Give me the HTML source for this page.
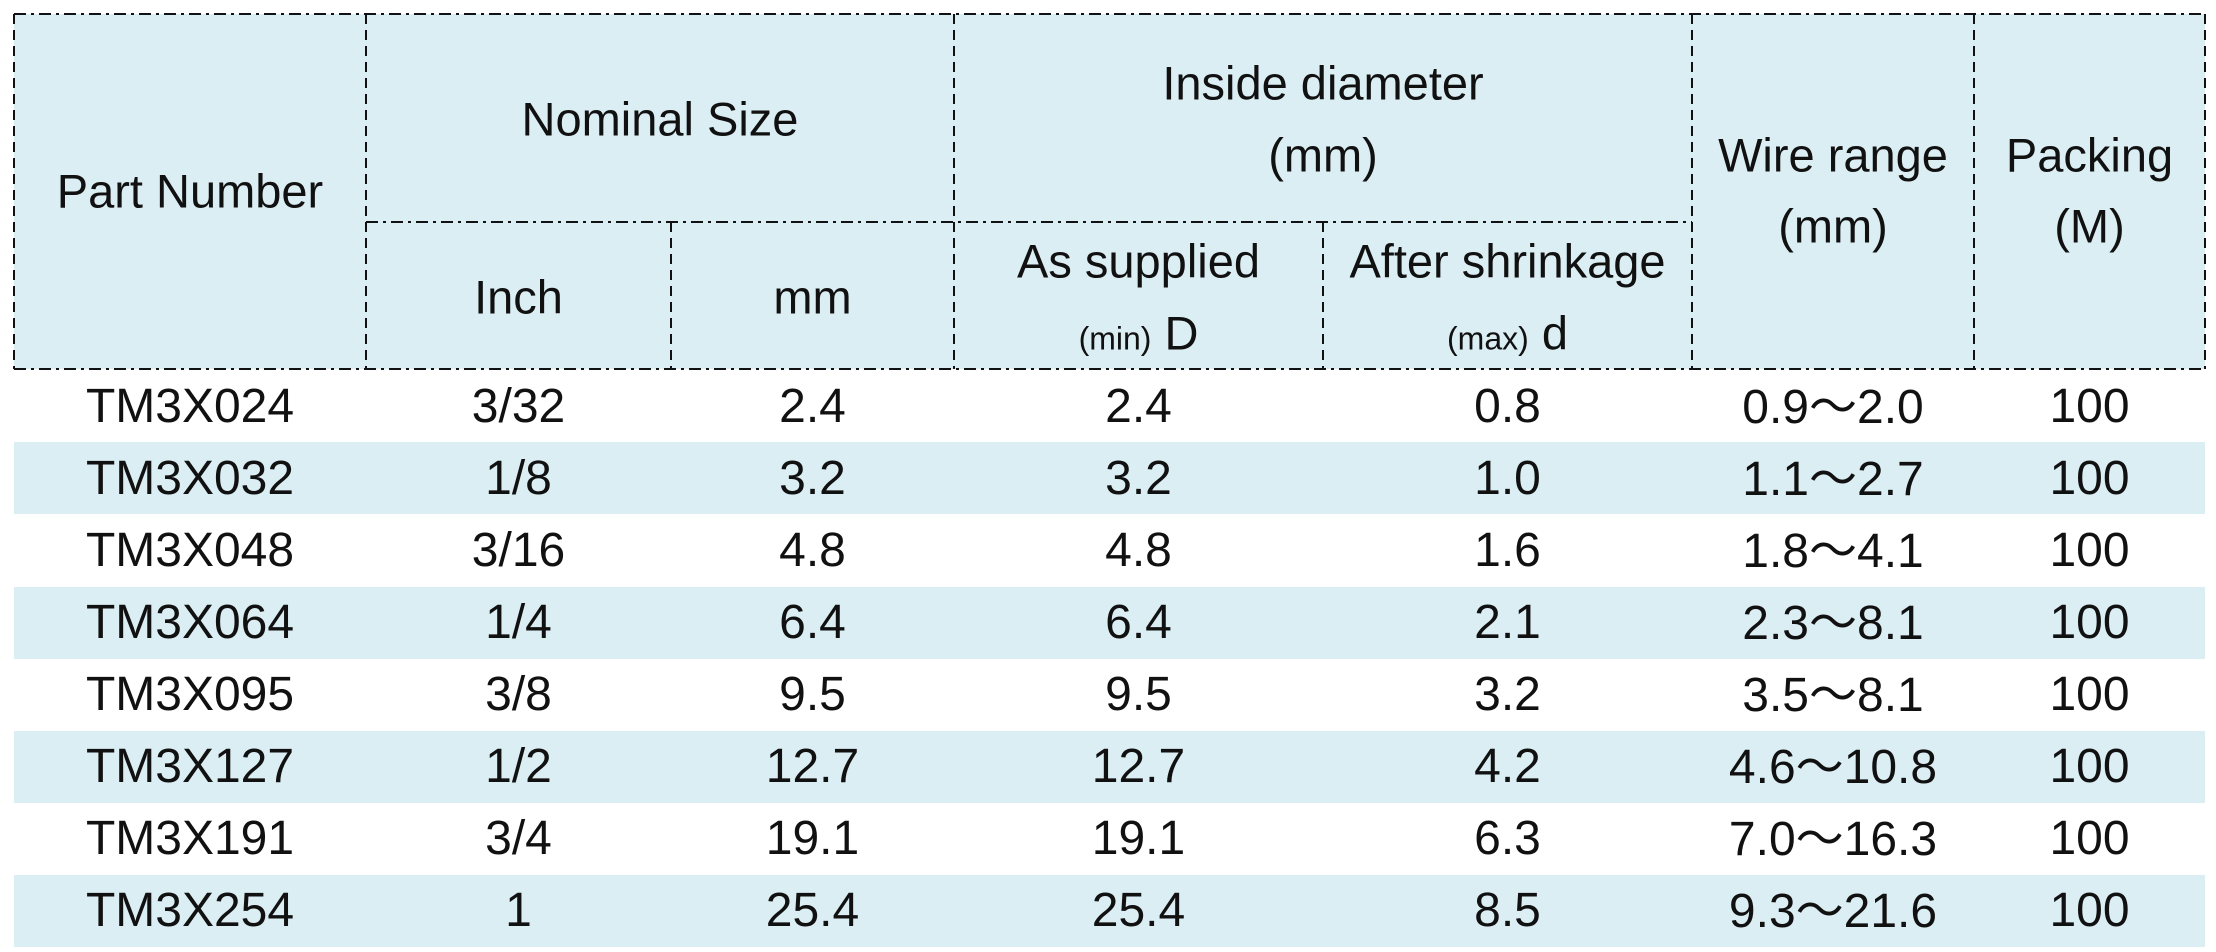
<!DOCTYPE html>
<html><head><meta charset="utf-8"><style>
html,body{margin:0;padding:0;background:#fff;}
body{width:2216px;height:952px;position:relative;overflow:hidden;font-family:"Liberation Sans","Noto Sans CJK SC",sans-serif;color:#111;}
.t{position:absolute;text-align:center;white-space:nowrap;transform:translateY(-50%);line-height:1;}
.h{font-size:47px;}
.d{font-size:48px;}
.s{font-size:32px;}
.bg{position:absolute;background:#dbeef4;}
.tl{font-family:"Noto Sans CJK SC",sans-serif;}
</style></head><body>
<div class="bg" style="left:14px;top:14px;width:2191px;height:355px"></div>
<div class="bg" style="left:14px;top:442px;width:2191px;height:72px"></div>
<div class="bg" style="left:14px;top:587px;width:2191px;height:72px"></div>
<div class="bg" style="left:14px;top:731px;width:2191px;height:72px"></div>
<div class="bg" style="left:14px;top:875px;width:2191px;height:72px"></div>
<svg style="position:absolute;left:0;top:0" width="2216" height="952">
<g stroke="#111" stroke-width="2" fill="none" stroke-dasharray="12,5,3,5">
<line x1="14" y1="14" x2="2205" y2="14"/>
<line x1="14" y1="369" x2="2205" y2="369"/>
<line x1="366" y1="222" x2="1692" y2="222"/>
</g>
<g stroke="#111" stroke-width="2" fill="none" stroke-dasharray="10,6">
<line x1="14" y1="14" x2="14" y2="369"/>
<line x1="366" y1="14" x2="366" y2="369"/>
<line x1="671" y1="222" x2="671" y2="369"/>
<line x1="954" y1="14" x2="954" y2="369"/>
<line x1="1323" y1="222" x2="1323" y2="369"/>
<line x1="1692" y1="14" x2="1692" y2="369"/>
<line x1="1974" y1="14" x2="1974" y2="369"/>
<line x1="2205" y1="14" x2="2205" y2="369"/>
</g>
</svg>
<div class="t h" style="left:14px;width:352px;top:191px">Part Number</div>
<div class="t h" style="left:366px;width:588px;top:119px">Nominal Size</div>
<div class="t h" style="left:366px;width:305px;top:297px">Inch</div>
<div class="t h" style="left:671px;width:283px;top:297px">mm</div>
<div class="t h" style="left:954px;width:738px;top:83px">Inside diameter</div>
<div class="t h" style="left:954px;width:738px;top:155px">(mm)</div>
<div class="t h" style="left:954px;width:369px;top:261px">As supplied</div>
<div class="t h" style="left:954px;width:369px;top:333px"><span class="s">(min)</span> D</div>
<div class="t h" style="left:1323px;width:369px;top:261px">After shrinkage</div>
<div class="t h" style="left:1323px;width:369px;top:333px"><span class="s">(max)</span> d</div>
<div class="t h" style="left:1692px;width:282px;top:155px">Wire range</div>
<div class="t h" style="left:1692px;width:282px;top:226px">(mm)</div>
<div class="t h" style="left:1974px;width:231px;top:155px">Packing</div>
<div class="t h" style="left:1974px;width:231px;top:226px">(M)</div>

<div class="t d" style="left:14px;width:352px;top:407px">TM3X024</div><div class="t d" style="left:366px;width:305px;top:407px">3/32</div><div class="t d" style="left:671px;width:283px;top:407px">2.4</div><div class="t d" style="left:954px;width:369px;top:407px">2.4</div><div class="t d" style="left:1323px;width:369px;top:407px">0.8</div><div class="t d" style="left:1692px;width:282px;top:405px">0.9<span class="tl">～</span>2.0</div><div class="t d" style="left:1974px;width:231px;top:407px">100</div>
<div class="t d" style="left:14px;width:352px;top:479px">TM3X032</div><div class="t d" style="left:366px;width:305px;top:479px">1/8</div><div class="t d" style="left:671px;width:283px;top:479px">3.2</div><div class="t d" style="left:954px;width:369px;top:479px">3.2</div><div class="t d" style="left:1323px;width:369px;top:479px">1.0</div><div class="t d" style="left:1692px;width:282px;top:477px">1.1<span class="tl">～</span>2.7</div><div class="t d" style="left:1974px;width:231px;top:479px">100</div>
<div class="t d" style="left:14px;width:352px;top:551px">TM3X048</div><div class="t d" style="left:366px;width:305px;top:551px">3/16</div><div class="t d" style="left:671px;width:283px;top:551px">4.8</div><div class="t d" style="left:954px;width:369px;top:551px">4.8</div><div class="t d" style="left:1323px;width:369px;top:551px">1.6</div><div class="t d" style="left:1692px;width:282px;top:549px">1.8<span class="tl">～</span>4.1</div><div class="t d" style="left:1974px;width:231px;top:551px">100</div>
<div class="t d" style="left:14px;width:352px;top:623px">TM3X064</div><div class="t d" style="left:366px;width:305px;top:623px">1/4</div><div class="t d" style="left:671px;width:283px;top:623px">6.4</div><div class="t d" style="left:954px;width:369px;top:623px">6.4</div><div class="t d" style="left:1323px;width:369px;top:623px">2.1</div><div class="t d" style="left:1692px;width:282px;top:621px">2.3<span class="tl">～</span>8.1</div><div class="t d" style="left:1974px;width:231px;top:623px">100</div>
<div class="t d" style="left:14px;width:352px;top:695px">TM3X095</div><div class="t d" style="left:366px;width:305px;top:695px">3/8</div><div class="t d" style="left:671px;width:283px;top:695px">9.5</div><div class="t d" style="left:954px;width:369px;top:695px">9.5</div><div class="t d" style="left:1323px;width:369px;top:695px">3.2</div><div class="t d" style="left:1692px;width:282px;top:693px">3.5<span class="tl">～</span>8.1</div><div class="t d" style="left:1974px;width:231px;top:695px">100</div>
<div class="t d" style="left:14px;width:352px;top:767px">TM3X127</div><div class="t d" style="left:366px;width:305px;top:767px">1/2</div><div class="t d" style="left:671px;width:283px;top:767px">12.7</div><div class="t d" style="left:954px;width:369px;top:767px">12.7</div><div class="t d" style="left:1323px;width:369px;top:767px">4.2</div><div class="t d" style="left:1692px;width:282px;top:765px">4.6<span class="tl">～</span>10.8</div><div class="t d" style="left:1974px;width:231px;top:767px">100</div>
<div class="t d" style="left:14px;width:352px;top:839px">TM3X191</div><div class="t d" style="left:366px;width:305px;top:839px">3/4</div><div class="t d" style="left:671px;width:283px;top:839px">19.1</div><div class="t d" style="left:954px;width:369px;top:839px">19.1</div><div class="t d" style="left:1323px;width:369px;top:839px">6.3</div><div class="t d" style="left:1692px;width:282px;top:837px">7.0<span class="tl">～</span>16.3</div><div class="t d" style="left:1974px;width:231px;top:839px">100</div>
<div class="t d" style="left:14px;width:352px;top:911px">TM3X254</div><div class="t d" style="left:366px;width:305px;top:911px">1</div><div class="t d" style="left:671px;width:283px;top:911px">25.4</div><div class="t d" style="left:954px;width:369px;top:911px">25.4</div><div class="t d" style="left:1323px;width:369px;top:911px">8.5</div><div class="t d" style="left:1692px;width:282px;top:909px">9.3<span class="tl">～</span>21.6</div><div class="t d" style="left:1974px;width:231px;top:911px">100</div>
</body></html>
